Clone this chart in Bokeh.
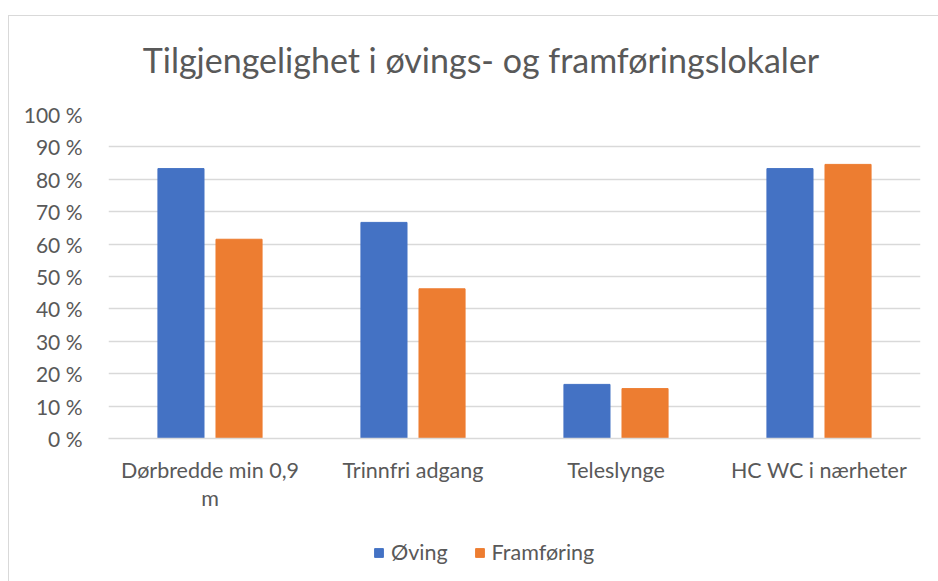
from bokeh.plotting import figure
from bokeh.layouts import column
from bokeh.models import (ColumnDataSource, FactorRange, Range1d, FixedTicker,
                          PrintfTickFormatter, Legend, LegendItem, Label)
from bokeh.transform import dodge
from bokeh.embed import file_html
from bokeh.resources import INLINE

title_text = "Tilgjengelighet i øvings- og framføringslokaler"
categories = ["Dørbredde min 0,9\nm", "Trinnfri adgang", "Teleslynge", "HC WC i nærheter"]
oving = [83.3, 66.7, 16.7, 83.3]
framforing = [61.5, 46.2, 15.4, 84.6]
series_names = ["Øving", "Framføring"]
colors = ["#4472C4", "#ED7D31"]
y_ticks = [0, 10, 20, 30, 40, 50, 60, 70, 80, 90, 100]

FONT = "Lato"
TXT = "#595959"
GRID = "#d9d9d9"
LBL = "21.5px"
W = 929

src = ColumnDataSource(dict(cat=categories, oving=oving, fram=framforing))


def strip(height):
    f = figure(width=W, height=height, x_range=FactorRange(*categories),
               y_range=Range1d(200, 300), output_backend="svg",
               toolbar_location=None, min_border=0,
               x_axis_location=None, y_axis_location=None)
    f.outline_line_color = None
    f.grid.visible = False
    return f


# title strip
tt = strip(74)
tt.add_layout(Label(x=372.5, y=31.5, x_units="screen", y_units="screen",
                    text=title_text, text_align="center", text_baseline="alphabetic",
                    text_font=FONT, text_font_size="34px", text_color=TXT))

# main chart
p = figure(width=W, height=438, x_range=FactorRange(*categories),
           y_range=Range1d(0, 100), output_backend="svg", toolbar_location=None,
           min_border_left=99, min_border_right=18, min_border_top=24,
           min_border_bottom=90)
p.outline_line_color = None

p.vbar(x=dodge("cat", -0.143, range=p.x_range), top="oving", width=0.227,
       source=src, fill_color=colors[0], line_color=colors[0])
p.vbar(x=dodge("cat", 0.143, range=p.x_range), top="fram", width=0.227,
       source=src, fill_color=colors[1], line_color=colors[1])

p.yaxis.ticker = FixedTicker(ticks=y_ticks)
p.yaxis.formatter = PrintfTickFormatter(format="%d %%")
p.yaxis.axis_line_color = None
p.yaxis.major_tick_line_color = None
p.yaxis.minor_tick_line_color = None
p.yaxis.major_label_standoff = 20
p.yaxis.major_label_text_font = FONT
p.yaxis.major_label_text_font_size = "21px"
p.yaxis.major_label_text_color = TXT

p.xaxis.axis_line_color = GRID
p.xaxis.axis_line_width = 1.5
p.xaxis.major_tick_line_color = None
p.xaxis.minor_tick_line_color = None
p.xaxis.major_label_standoff = 12
p.xaxis.major_label_text_font = FONT
p.xaxis.major_label_text_font_size = LBL
p.xaxis.major_label_text_color = TXT
p.xaxis.major_label_text_line_height = 1.08

p.xgrid.grid_line_color = None
p.ygrid.grid_line_color = GRID
p.ygrid.grid_line_width = 1.5
p.ygrid.ticker = FixedTicker(ticks=y_ticks)

# legend strip (proxy bars lie outside its visible y range)
lg = strip(53)
lr1 = lg.vbar(x=dodge("cat", -0.143, range=lg.x_range), top="oving", width=0.227,
              source=src, fill_color=colors[0], line_color=colors[0])
lr2 = lg.vbar(x=dodge("cat", 0.143, range=lg.x_range), top="fram", width=0.227,
              source=src, fill_color=colors[1], line_color=colors[1])
legend = Legend(items=[LegendItem(label=series_names[0], renderers=[lr1]),
                       LegendItem(label=series_names[1], renderers=[lr2])],
                orientation="horizontal", location=(265, 16),
                label_text_font=FONT, label_text_font_size=LBL,
                label_text_color=TXT, glyph_width=11, glyph_height=11,
                spacing=26, label_standoff=7, border_line_color=None,
                background_fill_alpha=0, padding=0, margin=0)
lg.add_layout(legend, "center")

layout = column(tt, p, lg, spacing=0)
layout.margin = (15, 0, 0, 8)
layout.styles = {"border-top": "1px solid #d9d9d9", "border-left": "1px solid #d9d9d9"}

open("out.html", "w").write(file_html(layout, INLINE))
